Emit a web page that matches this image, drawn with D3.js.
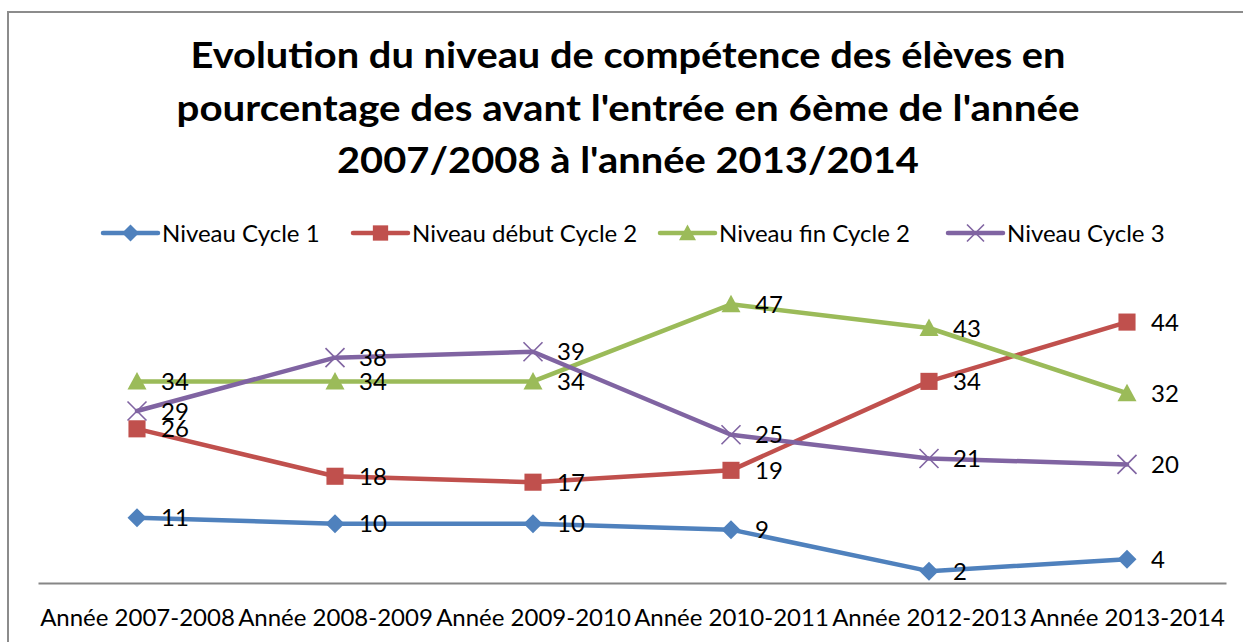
<!DOCTYPE html>
<html>
<head>
<meta charset="utf-8">
<script src="https://cdn.jsdelivr.net/npm/d3@7"></script>
<style>
  html, body { margin: 0; padding: 0; background: #fff; }
  svg { display: block; font-family: Lato, "Open Sans", sans-serif; }
</style>
</head>
<body>
<svg id="chart"></svg>
<script>
// categories and series values
const categories = ['Année 2007-2008', 'Année 2008-2009', 'Année 2009-2010',
  'Année 2010-2011', 'Année 2012-2013', 'Année 2013-2014'];
const cycle1 = [11, 10, 10, 9, 2, 4];
const debutCycle2 = [26, 18, 17, 19, 34, 44];
const finCycle2 = [34, 34, 34, 47, 43, 32];
const cycle3 = [29, 38, 39, 25, 21, 20];
const seriesNames = ['Niveau Cycle 1', 'Niveau début Cycle 2', 'Niveau fin Cycle 2', 'Niveau Cycle 3'];
const titleLines = [
  'Evolution du niveau de compétence des élèves en',
  "pourcentage des avant l'entrée en 6ème de l'année",
  "2007/2008 à l'année 2013/2014"
];
const yDomain = [0, 50];

const series = [
  { name: seriesNames[0], values: cycle1, color: '#4F81BD', marker: 'diamond' },
  { name: seriesNames[1], values: debutCycle2, color: '#C0504D', marker: 'square' },
  { name: seriesNames[2], values: finCycle2, color: '#9BBB59', marker: 'triangle' },
  { name: seriesNames[3], values: cycle3, color: '#8064A2', marker: 'cross' }
];

const width = 1243, height = 642;
const plot = { left: 38, right: 1226, top: 286.5, bottom: 583 };
const labelSize = '24px';

const svg = d3.select('#chart')
  .attr('width', width)
  .attr('height', height)
  .attr('viewBox', `0 0 ${width} ${height}`);

// chart frame (runs off the right/bottom of the picture)
svg.append('rect')
  .attr('x', 8).attr('y', 12)
  .attr('width', 1260).attr('height', 660)
  .attr('fill', 'none')
  .attr('stroke', '#8c8c8c')
  .attr('stroke-width', 2);

// Title
const titleWidths = [875, 903, 582];
titleLines.forEach((t, i) => {
  svg.append('text')
    .attr('x', 628)
    .attr('y', 68 + i * 52.5)
    .attr('text-anchor', 'middle')
    .attr('font-size', '37px')
    .attr('font-weight', '700')
    .attr('fill', '#000')
    .attr('textLength', titleWidths[i])
    .attr('lengthAdjust', 'spacingAndGlyphs')
    .text(t);
});

const x = d3.scalePoint()
  .domain(categories)
  .range([plot.left, plot.right])
  .padding(0.5);

const y = d3.scaleLinear()
  .domain(yDomain)
  .range([plot.bottom, plot.top]);

// X axis: plain line plus category labels
const xAxis = svg.append('g')
  .attr('transform', `translate(0, ${plot.bottom})`)
  .call(d3.axisBottom(x).tickSize(0).tickPadding(26));
xAxis.select('.domain')
  .attr('stroke', '#868686')
  .attr('stroke-width', 2);
xAxis.selectAll('text')
  .attr('font-size', labelSize)
  .attr('font-family', 'Lato, "Open Sans", sans-serif')
  .attr('fill', '#000');

function drawMarker(g, type, color, size) {
  const s = size / 2;
  if (type === 'diamond') {
    g.append('path').attr('d', `M0,${-s}L${s},0L0,${s}L${-s},0Z`).attr('fill', color);
  } else if (type === 'square') {
    g.append('rect').attr('x', -s * 0.9).attr('y', -s * 0.9)
      .attr('width', s * 1.8).attr('height', s * 1.8).attr('fill', color);
  } else if (type === 'triangle') {
    g.append('path').attr('d', `M0,${-s}L${s},${s * 0.85}L${-s},${s * 0.85}Z`).attr('fill', color);
  } else {
    g.append('path').attr('d', `M${-s},${-s}L${s},${s}M${-s},${s}L${s},${-s}`)
      .attr('stroke', color).attr('stroke-width', 1.6).attr('fill', 'none');
  }
}

const line = d3.line()
  .x((d, i) => x(categories[i]))
  .y(d => y(d));

const g = svg.append('g');

series.forEach(s => {
  g.append('path')
    .datum(s.values)
    .attr('d', line)
    .attr('fill', 'none')
    .attr('stroke', s.color)
    .attr('stroke-width', 4.5)
    .attr('stroke-linejoin', 'round')
    .attr('stroke-linecap', 'round');
});

series.forEach(s => {
  s.values.forEach((v, i) => {
    const m = g.append('g').attr('transform', `translate(${x(categories[i])}, ${y(v)})`);
    drawMarker(m, s.marker, s.color, 19);
  });
});

// Data labels, to the right of each point
series.forEach(s => {
  s.values.forEach((v, i) => {
    g.append('text')
      .attr('x', x(categories[i]) + 24)
      .attr('y', y(v))
      .attr('dy', '0.36em')
      .attr('font-size', labelSize)
      .attr('fill', '#000')
      .text(v);
  });
});

// Legend
const legend = svg.append('g').attr('transform', 'translate(0, 233)');
const legendX = [103, 353, 660, 948];
series.forEach((s, i) => {
  const item = legend.append('g').attr('transform', `translate(${legendX[i]}, 0)`);
  item.append('line')
    .attr('x1', 0).attr('x2', 55)
    .attr('stroke', s.color)
    .attr('stroke-width', 4.5)
    .attr('stroke-linecap', 'round');
  const m = item.append('g').attr('transform', 'translate(27.5, 0)');
  drawMarker(m, s.marker, s.color, 17);
  item.append('text')
    .attr('x', 59)
    .attr('dy', '0.36em')
    .attr('font-size', labelSize)
    .attr('fill', '#000')
    .text(s.name);
});
</script>
</body>
</html>
